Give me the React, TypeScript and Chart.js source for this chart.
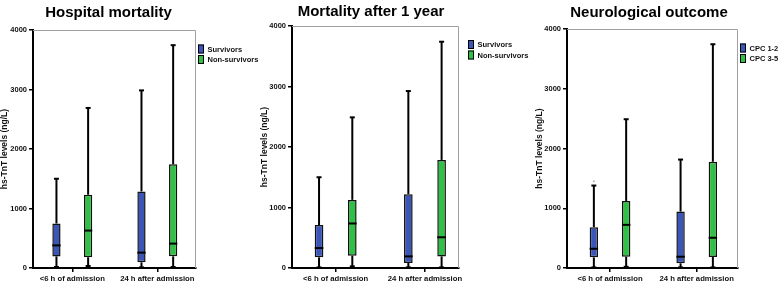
import React, { useEffect, useRef } from "react";
import { Chart, registerables } from "chart.js";

Chart.register(...registerables);

// ---------- data ----------
const categories = ["<6 h of admission", "24 h after admission"];
const categoryPositions = [1, 2];
const yTickValues = [0, 1000, 2000, 3000, 4000];
const yAxisTitle = "hs-TnT levels (ng/L)";

// Panel 1: Hospital mortality
const p1Title = "Hospital mortality";
const p1Labels = ["Survivors", "Non-survivors"];
const p1SurvMin = [17, 10];
const p1SurvQ1 = [195, 95];
const p1SurvMedian = [380, 258];
const p1SurvQ3 = [748, 1287];
const p1SurvMax = [1500, 2985];
const p1NonMin = [34, 17];
const p1NonQ1 = [180, 196];
const p1NonMedian = [629, 410];
const p1NonQ3 = [1231, 1742];
const p1NonMax = [2690, 3745];

// Panel 2: Mortality after 1 year
const p2Title = "Mortality after 1 year";
const p2Labels = ["Survivors", "Non-survivors"];
const p2SurvMin = [10, 10];
const p2SurvQ1 = [176, 82];
const p2SurvMedian = [330, 192];
const p2SurvQ3 = [710, 1220];
const p2SurvMax = [1500, 2925];
const p2NonMin = [27, 10];
const p2NonQ1 = [203, 192];
const p2NonMedian = [736, 508];
const p2NonQ3 = [1126, 1786];
const p2NonMax = [2490, 3740];

// Panel 3: Neurological outcome
const p3Title = "Neurological outcome";
const p3Labels = ["CPC 1-2", "CPC 3-5"];
const p3GoodMin = [10, 10];
const p3GoodQ1 = [178, 78];
const p3GoodMedian = [322, 189];
const p3GoodQ3 = [683, 944];
const p3GoodMax = [1380, 1815];
const p3GoodOutliers = [[1450], []];
const p3PoorMin = [20, 10];
const p3PoorQ1 = [189, 183];
const p3PoorMedian = [722, 506];
const p3PoorQ3 = [1122, 1778];
const p3PoorMax = [2490, 3745];
const p3PoorOutliers = [[], []];

// ---------- styles ----------
const BLUE = "#3b56b6";
const GREEN = "#31c046";
const FONT = "'Liberation Sans', Arial, Helvetica, sans-serif";

type Stats = {
  min: number[];
  q1: number[];
  median: number[];
  q3: number[];
  max: number[];
  outliers?: number[][];
};

type PanelCfg = {
  title: string;
  labels: string[];
  stats: Stats[];
  left: number;
  width: number;
  padding: { left: number; right: number; top: number; bottom: number };
  yAxisWidth: number;
  xMin: number;
  xMax: number;
  titleX: number;
  titleY: number;
  legendX: number;
  legendY: number;
};

const panels: PanelCfg[] = [
  {
    title: p1Title,
    labels: p1Labels,
    stats: [
      { min: p1SurvMin, q1: p1SurvQ1, median: p1SurvMedian, q3: p1SurvQ3, max: p1SurvMax },
      { min: p1NonMin, q1: p1NonQ1, median: p1NonMedian, q3: p1NonQ3, max: p1NonMax },
    ],
    left: 0,
    width: 260,
    padding: { left: 0, right: 64, top: 30, bottom: 0 },
    yAxisWidth: 33,
    xMin: 0.538,
    xMax: 2.455,
    titleX: 108.5,
    titleY: 16.5,
    legendX: 198,
    legendY: 44.5,
  },
  {
    title: p2Title,
    labels: p2Labels,
    stats: [
      { min: p2SurvMin, q1: p2SurvQ1, median: p2SurvMedian, q3: p2SurvQ3, max: p2SurvMax },
      { min: p2NonMin, q1: p2NonQ1, median: p2NonMedian, q3: p2NonQ3, max: p2NonMax },
    ],
    left: 260,
    width: 270,
    padding: { left: 0, right: 71, top: 26, bottom: 0 },
    yAxisWidth: 32,
    xMin: 0.511,
    xMax: 2.381,
    titleX: 111,
    titleY: 16,
    legendX: 208,
    legendY: 40,
  },
  {
    title: p3Title,
    labels: p3Labels,
    stats: [
      { min: p3GoodMin, q1: p3GoodQ1, median: p3GoodMedian, q3: p3GoodQ3, max: p3GoodMax, outliers: p3GoodOutliers },
      { min: p3PoorMin, q1: p3PoorQ1, median: p3PoorMedian, q3: p3PoorQ3, max: p3PoorMax, outliers: p3PoorOutliers },
    ],
    left: 520,
    width: 258,
    padding: { left: 15, right: 40, top: 29, bottom: 0 },
    yAxisWidth: 32,
    xMin: 0.504,
    xMax: 2.476,
    titleX: 129,
    titleY: 16.5,
    legendX: 220,
    legendY: 43.5,
  },
];

// ---------- plugins ----------
const framePlugin = {
  id: "frame",
  beforeDatasetsDraw(chart: any) {
    const { ctx, chartArea } = chart;
    ctx.save();
    ctx.strokeStyle = "#a0a0a0";
    ctx.lineWidth = 1;
    ctx.beginPath();
    ctx.moveTo(chartArea.left, chartArea.top + 0.5);
    ctx.lineTo(chartArea.right - 0.5, chartArea.top + 0.5);
    ctx.lineTo(chartArea.right - 0.5, chartArea.bottom);
    ctx.stroke();
    ctx.restore();
  },
};

const boxPlotPlugin = {
  id: "boxPlot",
  afterDatasetsDraw(chart: any) {
    const { ctx } = chart;
    const yScale = chart.scales.y;
    chart.data.datasets.forEach((ds: any, di: number) => {
      const meta = chart.getDatasetMeta(di);
      const st: Stats = ds.stats;
      meta.data.forEach((el: any, i: number) => {
        const x = el.x;
        const w = el.width;
        const py = (v: number) => yScale.getPixelForValue(v);
        const line = (x1: number, y1: number, x2: number, y2: number) => {
          ctx.beginPath();
          ctx.moveTo(x1, y1);
          ctx.lineTo(x2, y2);
          ctx.stroke();
        };
        ctx.save();
        ctx.strokeStyle = "#000";
        ctx.lineWidth = 2;
        const capHalf = 2.5;
        // upper whisker
        line(x, py(st.q3[i]), x, py(st.max[i]));
        line(x - capHalf, py(st.max[i]), x + capHalf, py(st.max[i]));
        // lower whisker
        line(x, py(st.q1[i]), x, py(st.min[i]));
        line(x - capHalf, py(st.min[i]), x + capHalf, py(st.min[i]));
        // median
        line(x - w / 2, py(st.median[i]), x + w / 2, py(st.median[i]));
        // outliers
        const outs = st.outliers ? st.outliers[i] : [];
        ctx.fillStyle = "#b0b0b0";
        outs.forEach((v) => {
          ctx.beginPath();
          ctx.arc(x, py(v), 1, 0, Math.PI * 2);
          ctx.fill();
        });
        ctx.restore();
      });
    });
  },
};

const titleLegendPlugin = {
  id: "titleLegend",
  afterDraw(chart: any, _args: any, opts: any) {
    const { ctx } = chart;
    ctx.save();
    ctx.fillStyle = "#000";
    ctx.font = `bold 15px ${FONT}`;
    ctx.textAlign = "center";
    ctx.textBaseline = "alphabetic";
    ctx.fillText(opts.title, opts.titleX, opts.titleY);

    const boxW = 6;
    const boxH = 9;
    const pitch = 10.5;
    ctx.textAlign = "left";
    ctx.textBaseline = "middle";
    ctx.font = `bold 7.5px ${FONT}`;
    chart.data.datasets.forEach((ds: any, i: number) => {
      const bx = opts.legendX;
      const by = opts.legendY + i * pitch;
      ctx.fillStyle = ds.backgroundColor;
      ctx.fillRect(bx, by, boxW, boxH);
      ctx.strokeStyle = "#000";
      ctx.lineWidth = 1;
      ctx.strokeRect(bx + 0.5, by + 0.5, boxW - 1, boxH - 1);
      ctx.fillStyle = "#111";
      ctx.fillText(ds.label, bx + boxW + 3.5, by + boxH / 2 + 0.5);
    });
    ctx.restore();
  },
};

// ---------- components ----------
function Panel({ cfg }: { cfg: PanelCfg }) {
  const ref = useRef<HTMLCanvasElement | null>(null);

  useEffect(() => {
    if (!ref.current) return;
    const colors = [BLUE, GREEN];
    const chart = new Chart(ref.current, {
      type: "bar",
      data: {
        datasets: cfg.stats.map((st, di) => ({
          label: cfg.labels[di],
          data: categoryPositions.map((x, i) => ({ x, y: [st.q1[i], st.q3[i]] })),
          backgroundColor: colors[di],
          borderColor: "#111",
          borderWidth: 1.5,
          borderSkipped: false,
          categoryPercentage: 0.745,
          barPercentage: 0.26,
          stats: st,
        })) as any,
      },
      options: {
        animation: false,
        responsive: false,
        events: [],
        layout: { padding: cfg.padding },
        plugins: {
          legend: { display: false },
          tooltip: { enabled: false },
          title: { display: false },
          titleLegend: {
            title: cfg.title,
            titleX: cfg.titleX,
            titleY: cfg.titleY,
            legendX: cfg.legendX,
            legendY: cfg.legendY,
          },
        } as any,
        scales: {
          x: {
            type: "linear",
            min: cfg.xMin,
            max: cfg.xMax,
            offset: false,
            afterBuildTicks: (scale: any) => {
              scale.ticks = categoryPositions.map((v) => ({ value: v }));
            },
            afterFit: (scale: any) => {
              scale.height = 17;
            },
            ticks: {
              autoSkip: false,
              maxRotation: 0,
              padding: 2,
              color: "#111",
              font: { family: FONT, size: 7.7, weight: "bold" },
              callback: (v: any) => categories[categoryPositions.indexOf(Number(v))] ?? "",
            },
            grid: {
              offset: false,
              drawOnChartArea: false,
              drawTicks: true,
              tickLength: 4,
              color: "#000",
              lineWidth: 1.5,
            },
            border: { display: true, color: "#000", width: 2 },
          },
          y: {
            type: "linear",
            min: 0,
            max: 4000,
            afterBuildTicks: (scale: any) => {
              scale.ticks = yTickValues.map((v) => ({ value: v }));
            },
            afterFit: (scale: any) => {
              scale.width = cfg.yAxisWidth;
            },
            ticks: {
              padding: 2,
              color: "#111",
              font: { family: FONT, size: 7.5, weight: "bold" },
              callback: (v: any) => String(v),
            },
            grid: {
              drawOnChartArea: false,
              drawTicks: true,
              tickLength: 4,
              color: "#000",
              lineWidth: 1.5,
            },
            border: { display: true, color: "#000", width: 2 },
            title: {
              display: true,
              text: yAxisTitle,
              color: "#111",
              padding: { top: 0, bottom: 0 },
              font: { family: FONT, size: 8.5, weight: "bold" },
            },
          },
        },
      },
      plugins: [framePlugin, boxPlotPlugin, titleLegendPlugin],
    });
    return () => chart.destroy();
  }, [cfg]);

  return (
    <canvas
      ref={ref}
      width={cfg.width}
      height={285}
      style={{
        position: "absolute",
        left: cfg.left,
        top: 0,
        width: cfg.width,
        height: 285,
      }}
    />
  );
}

export default function App() {
  return (
    <div
      style={{
        position: "fixed",
        left: 0,
        top: 0,
        width: 778,
        height: 285,
        background: "#fff",
        overflow: "hidden",
      }}
    >
      {panels.map((p, i) => (
        <Panel key={i} cfg={p} />
      ))}
    </div>
  );
}
